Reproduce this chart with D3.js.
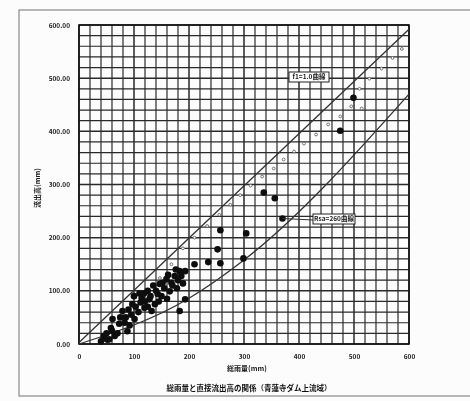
<!DOCTYPE html>
<html>
<head>
<meta charset="utf-8">
<script src="https://cdn.jsdelivr.net/npm/d3@7"></script>
<style>
    body { margin: 0; background: #fcfcfc; }
    svg { display: block; }
    .tick-label { font-family: "Noto Sans CJK JP", "Noto Sans", sans-serif; font-size: 6.5px; font-weight: bold; fill: #222; }
    .axis-label { font-family: "Noto Sans CJK JP", sans-serif; font-size: 7px; font-weight: bold; fill: #222; }
    .caption { font-family: "Noto Sans CJK JP", sans-serif; font-size: 7.5px; font-weight: bold; fill: #111; }
</style>
</head>
<body>
<svg id="chart"></svg>
<script>
// Tick labels
const xTicks = [0, 100, 200, 300, 400, 500, 600];
const yTicks = [0, 100, 200, 300, 400, 500, 600];
const yTickLabels = ['0.00', '100.00', '200.00', '300.00', '400.00', '500.00', '600.00'];

// Observed floods: total rainfall (mm) vs direct runoff (mm)
const rainfall = [499, 475, 336, 356, 370, 257, 304, 252, 235, 257, 299, 210, 193, 189, 183, 193,
    46, 55, 58, 61, 73, 79, 88, 97, 101, 114, 119, 128, 132, 143, 147, 159, 165, 174, 183,
    70, 65, 85, 92, 108, 110, 125, 138, 150, 155, 168, 178, 180, 160, 40, 50, 95, 120, 135, 145,
    60, 75, 83, 90, 103, 112, 118, 130, 140, 152, 162, 170, 176, 186, 45, 52, 100, 125];
const runoff = [463, 401, 285, 274, 236, 214, 208, 178, 154, 152, 161, 150, 137, 114, 62, 84,
    11, 9, 30, 47, 38, 62, 24, 75, 47, 86, 68, 84, 62, 94, 113, 122, 99, 128, 137,
    20, 15, 50, 35, 60, 95, 100, 75, 90, 105, 115, 105, 120, 85, 5, 20, 55, 80, 110, 80,
    25, 50, 40, 65, 70, 78, 95, 90, 100, 115, 130, 110, 140, 128, 15, 8, 90, 70];

// Small open marks running just under the upper curve
const openRain = [147, 168, 189, 210, 233, 255, 275, 293, 312, 333, 354, 372, 391, 409, 431, 453, 475, 495, 514, 510, 528, 550, 570, 587];
const openRunoff = [124, 150, 180, 200, 222, 243, 262, 280, 298, 315, 330, 347, 362, 377, 394, 413, 428, 447, 443, 480, 499, 518, 538, 555];

// Reference curves
const upperCurveX = [0, 600];
const upperCurveY = [3, 592];
const lowerCurveX = [0, 200, 300, 600];
const lowerCurveY = [0, 86, 158, 470];
const upperLabel = 'f1=1.0曲線';
const lowerLabel = 'Rsa=260曲線';

function createChart() {
    const width = 470, height = 401;
    const svg = d3.select('#chart').attr('width', width).attr('height', height);

    // soft blur to match the scanned look
    svg.append('defs').append('filter').attr('id', 'scan')
        .append('feGaussianBlur').attr('stdDeviation', 0.6);

    const root = svg.append('g').attr('filter', 'url(#scan)');

    // page frame of the scan
    root.append('rect')
        .attr('x', 19).attr('y', 10)
        .attr('width', 460).attr('height', 386)
        .attr('fill', 'none').attr('stroke', '#888').attr('stroke-width', 1.2);

    const plot = { left: 79, right: 409, top: 25, bottom: 344 };

    const x = d3.scaleLinear().domain([0, 600]).range([plot.left, plot.right]);
    const y = d3.scaleLinear().domain([0, 600]).range([plot.bottom, plot.top]);

    // Grid every 20 mm
    const grid = d3.range(0, 601, 20);
    root.append('g').selectAll('line')
        .data(grid)
        .enter().append('line')
        .attr('x1', d => x(d)).attr('x2', d => x(d))
        .attr('y1', plot.top).attr('y2', plot.bottom)
        .attr('stroke', '#2a2a2a')
        .attr('stroke-width', d => d % 100 === 0 ? 1.5 : 1.2);

    root.append('g').selectAll('line')
        .data(grid)
        .enter().append('line')
        .attr('y1', d => y(d)).attr('y2', d => y(d))
        .attr('x1', plot.left).attr('x2', plot.right)
        .attr('stroke', '#2a2a2a')
        .attr('stroke-width', d => d % 100 === 0 ? 1.5 : 1.2);

    // plot border
    root.append('rect')
        .attr('x', plot.left).attr('y', plot.top)
        .attr('width', plot.right - plot.left).attr('height', plot.bottom - plot.top)
        .attr('fill', 'none').attr('stroke', '#111').attr('stroke-width', 1.6);

    // Axes (labels only, ticks hidden by grid)
    const xAxis = root.append('g')
        .attr('transform', `translate(0,${plot.bottom + 7})`)
        .call(d3.axisBottom(x).tickValues(xTicks).tickSize(0).tickFormat(d3.format('d')));
    xAxis.select('.domain').remove();
    xAxis.selectAll('text').attr('class', 'tick-label');

    const yAxis = root.append('g')
        .attr('transform', `translate(${plot.left - 6},0)`)
        .call(d3.axisLeft(y).tickValues(yTicks).tickSize(0).tickFormat((d, i) => yTickLabels[i]));
    yAxis.select('.domain').remove();
    yAxis.selectAll('text').attr('class', 'tick-label');

    // Curves
    const line = d3.line().x(d => x(d[0])).y(d => y(d[1]));
    root.append('path')
        .datum(upperCurveX.map((v, i) => [v, upperCurveY[i]]))
        .attr('d', line)
        .attr('fill', 'none').attr('stroke', '#333').attr('stroke-width', 1.3);
    root.append('path')
        .datum(lowerCurveX.map((v, i) => [v, lowerCurveY[i]]))
        .attr('d', d3.line().curve(d3.curveMonotoneX).x(d => x(d[0])).y(d => y(d[1])))
        .attr('fill', 'none').attr('stroke', '#333').attr('stroke-width', 1.3);

    // open marks
    root.append('g').selectAll('circle')
        .data(openRain)
        .enter().append('circle')
        .attr('cx', d => x(d))
        .attr('cy', (d, i) => y(openRunoff[i]))
        .attr('r', 1.4)
        .attr('fill', '#fff').attr('stroke', '#555').attr('stroke-width', 0.8);

    // observed points
    root.append('g').selectAll('circle')
        .data(rainfall)
        .enter().append('circle')
        .attr('cx', d => x(d))
        .attr('cy', (d, i) => y(runoff[i]))
        .attr('r', 3.3)
        .attr('fill', '#0a0a0a');

    // curve labels in boxes
    function boxLabel(text, cx, cy, w) {
        const g = root.append('g');
        g.append('rect')
            .attr('x', cx - w / 2).attr('y', cy - 5)
            .attr('width', w).attr('height', 10)
            .attr('fill', '#fff').attr('stroke', '#222').attr('stroke-width', 1);
        g.append('text')
            .attr('x', cx).attr('y', cy + 2.3)
            .attr('text-anchor', 'middle')
            .attr('class', 'tick-label')
            .attr('font-size', '6px')
            .text(text);
    }

    // leader from the lower curve to its label
    root.append('line')
        .attr('x1', x(370)).attr('y1', y(236))
        .attr('x2', 313).attr('y2', 220)
        .attr('stroke', '#333').attr('stroke-width', 1);

    boxLabel(upperLabel, 309, 77, 40);
    boxLabel(lowerLabel, 334, 219, 42);

    // Axis titles
    root.append('text')
        .attr('x', (plot.left + plot.right) / 2 + 3)
        .attr('y', 371)
        .attr('text-anchor', 'middle')
        .attr('class', 'axis-label')
        .text('総雨量(mm)');

    root.append('text')
        .attr('transform', 'rotate(-90)')
        .attr('x', -188)
        .attr('y', 40)
        .attr('text-anchor', 'middle')
        .attr('class', 'axis-label')
        .text('流出高(mm)');

    root.append('text')
        .attr('x', 249)
        .attr('y', 391)
        .attr('text-anchor', 'middle')
        .attr('class', 'caption')
        .text('総雨量と直接流出高の関係（青蓮寺ダム上流域）');
}

createChart();
</script>
</body>
</html>
